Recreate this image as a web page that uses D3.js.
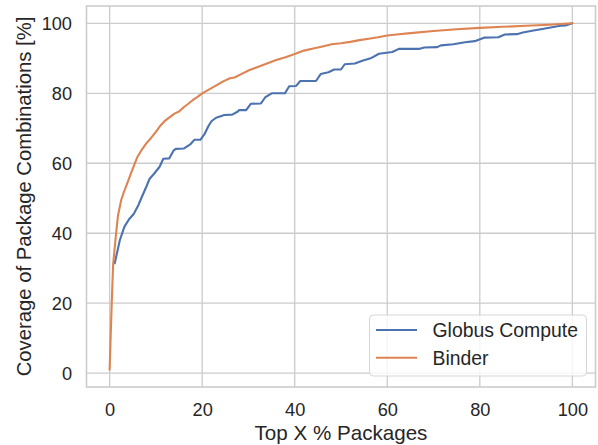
<!DOCTYPE html>
<html>
<head>
<meta charset="utf-8">
<script src="https://cdn.jsdelivr.net/npm/d3@7/dist/d3.min.js"></script>
<style>
  html, body { margin: 0; padding: 0; background: #fff; }
  svg { display: block; font-family: "Liberation Sans", Arial, sans-serif; }
</style>
</head>
<body>
<svg id="chart" width="598" height="445"></svg>
<script>
// ---- data ----
const seriesNames = ["Globus Compute", "Binder"];
const seriesColors = ["#4c72b0", "#dd8452"];

const globusX = [1.1, 2.2, 3.2, 4.2, 5.2, 6.2, 7, 8, 8.6, 9.6, 10.8, 11.6, 12.9, 13.8, 14.3, 16, 17.5, 18.3, 19.6, 20.5, 21.3, 22, 23, 24.8, 26.5, 27.7, 28, 29.5, 30.5, 32.7, 33.6, 35, 37.9, 38.8, 40.3, 41.2, 44.6, 45.6, 47.3, 48.5, 50, 50.8, 53, 54.6, 56.4, 58.2, 61.1, 62.5, 67, 68, 70.8, 71.6, 74.3, 76.8, 78.9, 80.9, 84, 85.4, 88, 89.3, 91.3, 93.5, 95.6, 97.4, 98.5, 100];
const globusY = [31.4, 38, 41.9, 44, 45.5, 48, 50.5, 53.5, 55.5, 57, 59, 61.3, 61.4, 63.6, 64.1, 64.2, 65.5, 66.7, 66.7, 68.3, 70.5, 72, 73, 73.8, 73.9, 74.8, 75.2, 75.2, 77, 77.1, 78.8, 80, 80, 82, 82.1, 83.5, 83.5, 85.5, 86, 86.8, 86.8, 88.3, 88.5, 89.3, 90, 91.3, 91.8, 92.7, 92.7, 93.1, 93.2, 93.7, 94, 94.6, 94.9, 95.9, 96, 96.8, 96.9, 97.4, 97.9, 98.4, 98.9, 99.3, 99.4, 100];

const binderX = [0, 0.4, 0.75, 1.4, 1.8, 2.5, 3, 4, 5, 6, 7, 8, 9, 10, 11, 12, 13, 14, 15, 16, 17, 18, 19, 20, 22, 24, 25, 26, 27, 28, 30, 32, 34, 36, 38, 40, 42, 44, 46, 48, 50, 52, 54, 56, 58, 60, 62, 65, 70, 75, 80, 85, 90, 95, 100];
const binderY = [1, 18, 31, 40, 45, 49.5, 51.5, 55, 58.5, 61.8, 64, 65.8, 67.3, 69, 70.8, 72.2, 73.2, 74.2, 74.8, 76, 77, 78.1, 79, 80, 81.5, 83, 83.7, 84.3, 84.5, 85.2, 86.5, 87.5, 88.5, 89.5, 90.3, 91.2, 92.2, 92.8, 93.4, 94, 94.3, 94.7, 95.2, 95.6, 96, 96.5, 96.8, 97.2, 97.8, 98.3, 98.7, 99, 99.3, 99.6, 100];

const xTicks = [0, 20, 40, 60, 80, 100];
const yTicks = [0, 20, 40, 60, 80, 100];
const xLabel = "Top X % Packages";
const yLabel = "Coverage of Package Combinations [%]";

// ---- layout ----
const svg = d3.select("#chart");
const pLeft = 86.5, pRight = 595.5, pTop = 6, pBottom = 387;
const x = d3.scaleLinear().domain([-5, 105]).range([pLeft, pRight]);
const y = d3.scaleLinear().domain([-3.95, 104.95]).range([pBottom, pTop]);

const grid = "#cccccc";
// grid lines
svg.append("g").selectAll("line").data(xTicks).join("line")
  .attr("x1", d => x(d)).attr("x2", d => x(d))
  .attr("y1", pTop).attr("y2", pBottom)
  .attr("stroke", grid).attr("stroke-width", 1.3);
svg.append("g").selectAll("line").data(yTicks).join("line")
  .attr("x1", pLeft).attr("x2", pRight)
  .attr("y1", d => y(d)).attr("y2", d => y(d))
  .attr("stroke", grid).attr("stroke-width", 1.3);

// axes (labels only, no tick marks)
const xAxis = d3.axisBottom(x).tickValues(xTicks).tickSize(0).tickPadding(16);
const gx = svg.append("g").attr("transform", `translate(0,${pBottom})`).call(xAxis);
gx.select(".domain").remove();
gx.selectAll("text").attr("font-size", 18.2).attr("fill", "#262626")
  .attr("font-family", "Liberation Sans, Arial, sans-serif");

const yAxis = d3.axisLeft(y).tickValues(yTicks).tickSize(0).tickPadding(14.5);
const gy = svg.append("g").attr("transform", `translate(${pLeft},0)`).call(yAxis);
gy.select(".domain").remove();
gy.selectAll("text").attr("font-size", 18.2).attr("fill", "#262626")
  .attr("font-family", "Liberation Sans, Arial, sans-serif");

// lines
const line = d3.line().x(d => x(d[0])).y(d => y(d[1]));
const globusData = globusX.map((v, i) => [v, globusY[i]]);
const binderData = binderX.map((v, i) => [v, binderY[i]]);
const plot = svg.append("g");
plot.append("path").datum(globusData).attr("d", line)
  .attr("fill", "none").attr("stroke", seriesColors[0]).attr("stroke-width", 2.1)
  .attr("stroke-linejoin", "round").attr("stroke-linecap", "round");
plot.append("path").datum(binderData).attr("d", line)
  .attr("fill", "none").attr("stroke", seriesColors[1]).attr("stroke-width", 2.1)
  .attr("stroke-linejoin", "round").attr("stroke-linecap", "round");

// frame
svg.append("rect").attr("x", pLeft).attr("y", pTop)
  .attr("width", pRight - pLeft).attr("height", pBottom - pTop)
  .attr("fill", "none").attr("stroke", grid).attr("stroke-width", 1.6);

// axis labels
svg.append("text").attr("x", (pLeft + pRight) / 2).attr("y", 440)
  .attr("text-anchor", "middle").attr("font-size", 20.6).attr("fill", "#262626")
  .text(xLabel);
svg.append("text")
  .attr("transform", `translate(31,${(pTop + pBottom) / 2}) rotate(-90)`)
  .attr("text-anchor", "middle").attr("font-size", 20.3).attr("fill", "#262626")
  .text(yLabel);

// legend
const lg = svg.append("g");
lg.append("rect").attr("x", 369.5).attr("y", 315).attr("width", 217).attr("height", 61)
  .attr("rx", 4).attr("fill", "#ffffff").attr("fill-opacity", 0.8)
  .attr("stroke", "#d6d6d6").attr("stroke-width", 1);
seriesNames.forEach((name, i) => {
  const cy = 330 + i * 27.7;
  lg.append("line").attr("x1", 376).attr("x2", 417).attr("y1", cy).attr("y2", cy)
    .attr("stroke", seriesColors[i]).attr("stroke-width", 2.1);
  lg.append("text").attr("x", 432.5).attr("y", cy + 6.8)
    .attr("font-size", 19.4).attr("fill", "#262626").text(name);
});
</script>
</body>
</html>
